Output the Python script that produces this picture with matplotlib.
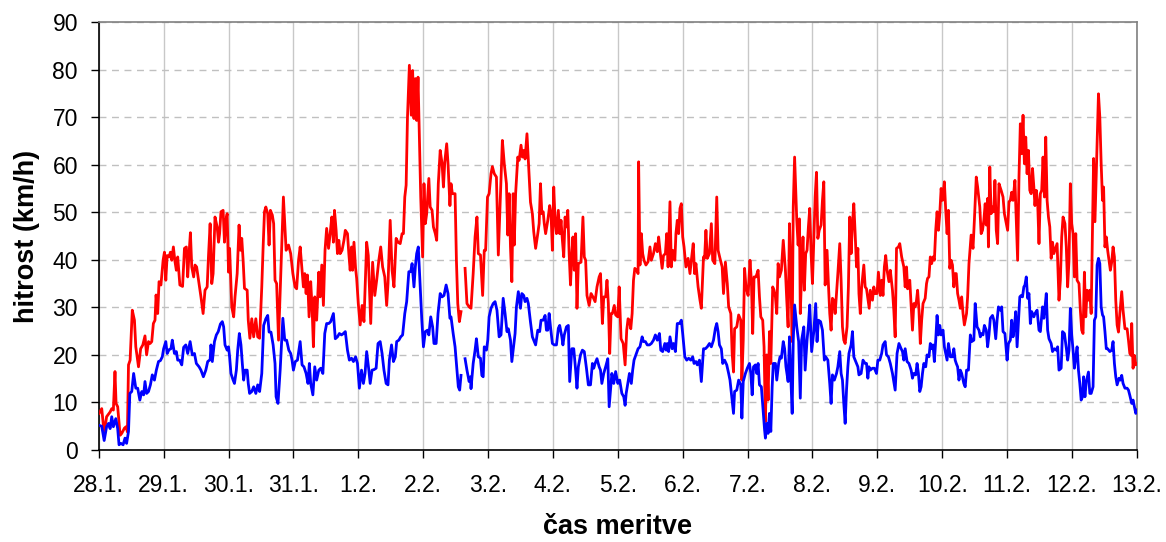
import numpy as np
import matplotlib
matplotlib.use("Agg")
import matplotlib.pyplot as plt

plt.rcParams['font.family'] = ['Liberation Sans', 'DejaVu Sans']

# x labels: one per day, 28.1. .. 13.2.
day_labels = ["28.1.", "29.1.", "30.1.", "31.1.", "1.2.", "2.2.", "3.2.", "4.2.",
              "5.2.", "6.2.", "7.2.", "8.2.", "9.2.", "10.2.", "11.2.", "12.2.", "13.2."]

# gust speed (red): (hours since 28.1. 00:00, km/h), nan = missing data
gust = [
    (0.1, 7.7), (1.1, 8.7), (2.0, 3.5), (2.9, 7.0), (4.2, 8.0), (4.8, 8.7), (5.4, 8.4), (6.0, 16.5),
    (6.4, 9.8), (7.0, 9.1), (7.9, 3.1), (8.5, 3.5), (9.5, 4.6), (10.1, 4.9), (10.6, 3.8), (11.0, 17.9),
    (11.6, 18.9), (12.4, 29.4), (13.2, 27.3), (13.7, 21.7), (14.7, 17.5), (15.5, 21.3), (16.3, 22.1),
    (17.1, 24.0), (17.7, 20.0), (18.4, 22.8), (19.0, 22.4), (19.6, 22.8), (20.2, 26.6), (20.8, 27.3),
    (21.2, 32.6), (21.8, 28.7), (22.3, 35.4), (23.0, 34.7), (23.8, 39.9), (24.3, 41.6), (24.8, 35.7),
    (25.3, 40.9), (26.0, 40.6), (26.5, 41.6), (27.0, 39.9), (27.6, 42.7), (28.2, 39.6), (28.7, 37.8),
    (29.2, 40.6), (30.0, 34.7), (31.0, 34.4), (31.7, 42.4), (32.4, 42.7), (32.9, 36.4), (33.4, 41.3),
    (33.9, 45.7), (34.4, 38.5), (35.1, 36.4), (35.6, 38.9), (36.2, 38.5), (37.1, 35.0), (37.8, 32.2),
    (38.6, 28.7), (39.3, 33.6), (40.1, 34.3), (40.6, 40.9), (41.2, 47.6), (41.8, 35.0), (42.3, 37.1),
    (43.0, 49.0), (43.8, 46.9), (44.3, 43.7), (44.7, 45.5), (45.2, 50.1), (46.0, 50.4), (46.5, 43.7),
    (47.0, 48.3), (47.5, 49.7), (48.0, 37.4), (48.4, 42.4), (49.2, 30.1), (49.9, 28.0), (50.4, 32.2),
    (51.2, 37.1), (51.9, 47.3), (52.4, 42.0), (52.9, 44.5), (53.4, 39.9), (53.9, 34.0), (54.9, 33.6),
    (55.3, 27.3), (55.9, 23.5), (56.6, 27.6), (57.3, 23.8), (58.1, 27.6), (58.8, 23.8), (59.5, 23.5),
    (60.3, 34.3), (60.8, 42.7), (61.3, 50.1), (61.8, 51.1), (62.5, 49.7), (63.0, 43.1), (63.5, 50.4),
    (64.2, 49.4), (64.7, 47.6), (65.2, 35.7), (65.8, 35.0), (66.5, 23.1), (68.3, 53.2), (69.3, 42.0),
    (70.2, 43.1), (71.0, 41.3), (71.8, 37.1), (72.6, 34.3), (73.2, 33.9), (73.9, 39.9), (74.5, 42.7),
    (75.1, 38.5), (75.7, 34.3), (76.2, 37.1), (76.7, 32.9), (77.2, 36.8), (77.8, 28.0), (78.4, 35.4),
    (78.9, 30.1), (79.4, 21.7), (79.9, 32.2), (80.6, 27.3), (81.4, 37.4), (81.9, 32.2), (82.5, 38.9),
    (83.1, 30.4), (83.7, 42.0), (84.3, 46.6), (85.0, 42.4), (85.6, 45.5), (86.2, 49.0), (86.8, 43.7),
    (87.2, 50.4), (87.8, 46.2), (88.3, 41.3), (88.8, 44.1), (89.3, 41.3), (90.0, 42.0), (90.7, 44.1),
    (91.2, 46.2), (92.0, 45.5), (92.5, 41.3), (93.0, 37.8), (93.5, 42.7), (93.9, 37.8), (94.4, 43.7),
    (95.0, 38.2), (95.4, 36.1), (96.0, 30.8), (96.7, 26.3), (97.4, 30.4), (98.1, 27.0), (99.1, 43.7),
    (99.7, 40.9), (100.6, 26.6), (101.3, 39.5), (102.1, 32.5), (102.8, 35.7), (103.6, 39.9),
    (104.3, 42.7), (105.0, 38.5), (105.8, 36.4), (106.5, 30.4), (107.0, 35.0), (107.8, 48.3),
    (108.5, 37.8), (109.2, 34.3), (110.0, 44.5), (110.7, 43.7), (111.5, 43.4), (112.2, 45.5),
    (112.7, 45.5), (113.2, 53.2), (113.7, 55.7), (114.2, 70.0), (114.9, 80.9), (115.6, 70.4),
    (116.1, 79.8), (116.6, 69.7), (117.1, 78.1), (117.6, 69.3), (118.1, 78.4), (118.6, 65.8),
    (119.1, 53.2), (119.8, 40.6), (120.3, 56.0), (120.8, 47.6), (121.3, 49.7), (122.1, 57.1),
    (122.6, 51.1), (123.3, 50.4), (123.8, 46.9), (124.5, 45.5), (125.0, 44.1), (125.6, 56.0),
    (126.3, 63.0), (127.0, 60.2), (127.5, 55.3), (128.0, 60.6), (128.7, 64.4), (129.2, 60.2),
    (129.9, 51.4), (130.3, 56.0), (130.8, 53.9), (131.8, 53.9), (132.3, 39.9), (132.8, 30.8),
    (133.4, 27.0), (134.0, 29.1), (134.8, np.nan), (135.5, 38.2), (136.2, 30.8), (137.0, 30.1),
    (137.7, 29.8), (138.5, 37.1), (139.2, 44.8), (139.9, 49.0), (140.4, 41.3), (141.2, 41.0),
    (141.7, 35.7), (142.0, 32.5), (142.6, 42.0), (143.1, 42.0), (143.8, 53.2), (144.4, 53.9),
    (145.1, 58.1), (145.6, 59.6), (146.3, 58.1), (147.1, 57.4), (147.8, 41.0), (148.6, 53.9),
    (149.3, 65.1), (150.0, 60.2), (150.8, 56.0), (151.3, 45.2), (151.8, 53.9), (152.3, 42.7),
    (152.8, 35.4), (153.3, 53.9), (153.7, 43.1), (154.2, 53.9), (155.0, 61.6), (155.5, 60.9),
    (156.2, 64.1), (156.7, 61.6), (157.2, 63.0), (157.7, 61.2), (158.4, 66.5), (158.9, 60.9),
    (159.7, 52.1), (160.4, 49.7), (160.9, 45.9), (161.6, 42.4), (162.4, 45.5), (162.9, 47.6),
    (163.4, 56.0), (163.9, 49.7), (164.4, 50.1), (164.8, 47.6), (165.3, 45.5), (166.1, 48.3),
    (166.8, 51.4), (167.3, 49.7), (167.8, 42.0), (168.3, 55.3), (168.8, 48.3), (169.3, 45.5),
    (170.0, 50.4), (170.5, 45.5), (171.0, 48.3), (171.5, 44.1), (172.0, 40.6), (172.5, 49.0),
    (173.0, 46.9), (173.5, 50.4), (174.0, 41.3), (174.5, 34.7), (175.0, 41.3), (175.4, 44.8),
    (175.9, 37.8), (176.4, 45.5), (176.9, 29.8), (177.4, 39.2), (178.4, 39.5), (179.1, 49.0),
    (179.6, 40.6), (180.1, 39.9), (180.6, 32.5), (181.4, 30.4), (182.1, 32.9), (182.8, 32.2),
    (183.6, 31.2), (184.3, 34.3), (185.1, 36.4), (185.6, 37.1), (186.3, 26.6), (186.8, 32.2),
    (187.5, 32.2), (188.0, 35.7), (188.5, 30.8), (189.0, 20.3), (189.5, 28.7), (190.0, 28.7),
    (190.7, 30.4), (191.2, 28.4), (192.0, 28.0), (192.5, 34.3), (193.2, 23.4), (194.0, 22.4),
    (194.7, 17.9), (195.3, 25.2), (195.8, 27.6), (196.3, 27.3), (196.8, 25.5), (197.3, 28.7),
    (197.8, 35.7), (198.3, 38.2), (199.0, 37.8), (199.5, 37.1), (199.7, 60.6), (200.2, 38.9),
    (200.7, 45.5), (201.2, 41.3), (201.7, 39.9), (202.4, 38.9), (203.2, 39.6), (203.9, 42.7),
    (204.4, 39.9), (205.2, 41.3), (205.9, 43.4), (206.6, 41.7), (207.1, 44.8), (207.6, 42.0),
    (208.4, 38.2), (208.9, 40.9), (209.6, 41.3), (210.1, 45.5), (210.6, 38.5), (211.3, 52.2),
    (211.8, 38.5), (212.3, 42.0), (213.1, 39.9), (213.5, 45.5), (214.0, 48.3), (214.5, 45.5),
    (215.0, 50.8), (215.5, 51.8), (216.0, 44.8), (216.5, 42.7), (217.2, 38.5), (218.0, 40.3),
    (218.7, 37.1), (219.2, 39.9), (219.9, 43.4), (220.4, 37.1), (220.9, 39.2), (221.7, 34.3),
    (222.4, 31.5), (222.9, 29.8), (223.7, 40.6), (224.1, 40.3), (224.6, 46.2), (225.1, 40.3),
    (225.9, 41.3), (226.6, 47.6), (227.1, 39.9), (227.9, 39.2), (228.6, 53.2), (229.1, 42.0),
    (229.8, 40.3), (230.6, 38.5), (231.1, 32.9), (231.8, 39.5), (232.5, 35.0), (233.0, 30.1),
    (233.8, 28.7), (234.3, 20.3), (234.8, 16.4), (235.2, 25.5), (236.0, 25.9), (236.7, 28.4),
    (237.5, 27.3), (237.9, 14.7), (238.4, 23.1), (238.9, 38.2), (239.4, 34.3), (240.2, 32.5),
    (240.9, 39.9), (241.4, 35.7), (241.9, 24.5), (242.4, 36.4), (243.1, 36.4), (243.9, 37.8),
    (244.4, 32.2), (244.9, 28.0), (245.6, 27.3), (246.1, 21.7), (246.6, 6.0), (247.1, 20.0),
    (247.6, 10.5), (248.1, 24.9), (248.6, 18.2), (249.3, 34.3), (249.8, 33.6), (250.3, 32.2),
    (250.8, 28.7), (251.3, 39.2), (251.8, 36.4), (252.5, 37.8), (253.2, 44.1), (254.0, 37.8),
    (254.5, 31.5), (255.0, 25.9), (255.5, 47.6), (255.9, 39.9), (256.5, 22.8), (256.9, 51.1),
    (257.4, 61.6), (258.2, 48.3), (258.7, 43.1), (259.2, 48.6), (259.5, 28.7), (260.0, 37.1),
    (260.5, 44.8), (261.0, 33.6), (261.5, 41.3), (262.0, 42.0), (262.5, 46.9), (263.0, 50.8),
    (263.5, 41.3), (264.0, 35.0), (264.5, 44.1), (265.0, 53.2), (265.5, 58.4), (266.0, 44.5),
    (266.5, 46.2), (267.2, 47.3), (267.7, 52.5), (268.2, 56.4), (268.7, 34.7), (269.4, 42.0),
    (269.9, 35.0), (270.4, 28.7), (270.9, 25.2), (271.4, 31.9), (271.9, 31.5), (272.4, 28.7),
    (272.9, 32.9), (273.4, 37.1), (274.1, 43.4), (274.6, 35.7), (275.1, 25.9), (275.6, 23.1),
    (276.1, 22.4), (276.8, 25.9), (277.3, 34.3), (277.8, 49.0), (278.3, 41.3), (278.8, 47.6),
    (279.3, 51.8), (279.8, 45.5), (280.3, 38.5), (280.8, 42.4), (281.2, 32.9), (281.7, 28.7),
    (282.2, 34.3), (283.0, 38.9), (283.5, 34.3), (284.0, 33.9), (284.5, 31.9), (285.0, 29.8),
    (285.4, 33.6), (286.2, 31.5), (286.7, 34.3), (287.2, 32.9), (287.9, 32.9), (288.4, 37.4),
    (289.1, 32.5), (289.6, 35.7), (290.1, 32.5), (290.6, 38.5), (291.1, 40.9), (291.6, 37.8),
    (292.3, 35.4), (292.8, 37.8), (293.6, 33.6), (294.1, 29.4), (294.6, 23.8), (295.1, 42.4),
    (295.8, 42.7), (296.3, 43.4), (297.0, 40.6), (297.8, 38.5), (298.3, 34.3), (298.8, 38.5),
    (299.2, 33.9), (300.0, 35.7), (300.5, 30.4), (301.0, 25.2), (301.5, 30.8), (302.0, 30.1),
    (302.5, 31.5), (302.9, 33.6), (303.4, 29.4), (303.9, 22.4), (304.4, 27.3), (304.9, 30.8),
    (305.7, 31.9), (306.2, 35.0), (306.6, 36.1), (307.1, 36.4), (307.6, 40.6), (308.1, 39.2),
    (308.6, 40.6), (309.1, 39.9), (309.6, 46.2), (310.1, 50.1), (310.6, 46.2), (311.1, 49.7),
    (311.6, 55.0), (312.1, 52.5), (312.8, 56.4), (313.3, 50.4), (313.8, 45.5), (314.3, 50.4),
    (314.8, 38.2), (315.3, 39.9), (315.8, 38.9), (316.3, 34.3), (316.8, 37.1), (317.2, 37.1),
    (317.7, 32.9), (318.2, 31.5), (318.7, 29.8), (319.2, 32.2), (319.7, 28.7), (320.2, 26.3),
    (321.0, 28.7), (321.4, 32.2), (321.9, 39.2), (322.7, 45.2), (323.4, 42.4), (323.9, 48.3),
    (324.6, 57.4), (325.1, 55.3), (325.9, 51.1), (326.4, 45.5), (326.9, 46.2), (327.4, 48.3),
    (327.9, 51.8), (328.3, 47.3), (328.8, 52.9), (329.1, 42.7), (329.6, 59.5), (330.1, 49.7),
    (330.6, 51.1), (331.1, 50.1), (331.5, 56.7), (332.0, 46.2), (332.5, 43.4), (333.0, 56.0),
    (333.8, 54.6), (334.5, 53.2), (335.0, 49.7), (335.7, 47.6), (336.2, 46.2), (336.7, 52.2),
    (337.2, 52.5), (337.7, 54.2), (338.2, 52.5), (338.9, 56.7), (339.4, 48.3), (339.9, 39.9),
    (340.4, 57.4), (340.9, 68.6), (341.4, 62.3), (341.9, 70.4), (342.4, 60.2), (342.9, 65.8),
    (343.4, 58.1), (343.9, 63.0), (344.4, 54.6), (344.9, 53.9), (345.4, 59.2), (345.9, 55.3),
    (346.3, 51.4), (346.8, 54.6), (347.3, 52.2), (347.8, 43.4), (348.3, 53.9), (348.8, 54.6),
    (349.3, 61.6), (349.8, 53.2), (350.3, 65.8), (350.8, 52.5), (351.3, 49.0), (351.8, 46.9),
    (352.3, 40.3), (352.8, 43.7), (353.3, 41.3), (353.7, 42.0), (354.5, 43.4), (355.2, 31.5),
    (355.7, 35.7), (356.2, 44.8), (356.7, 49.0), (357.4, 47.6), (357.9, 42.7), (358.4, 34.3),
    (358.9, 39.9), (359.4, 56.0), (359.9, 47.6), (360.4, 45.5), (360.9, 36.4), (361.4, 45.5),
    (361.9, 35.7), (362.6, 35.0), (363.1, 29.4), (363.6, 25.2), (364.1, 24.5), (364.6, 37.4),
    (365.1, 28.0), (365.6, 33.6), (366.1, 31.5), (366.6, 33.6), (367.1, 28.7), (367.6, 47.6),
    (368.0, 61.3), (368.5, 48.0), (369.0, 58.1), (369.8, 74.9), (370.3, 70.0), (370.8, 60.2),
    (371.3, 52.5), (371.7, 55.3), (372.2, 42.7), (372.7, 44.8), (373.2, 42.0), (373.7, 39.9),
    (374.2, 37.8), (374.7, 39.5), (375.2, 42.7), (375.7, 40.6), (376.2, 31.5), (376.7, 26.3),
    (377.2, 24.8), (377.7, 28.7), (378.4, 33.3), (378.9, 29.4), (379.6, 25.5), (380.4, 25.5),
    (380.9, 23.1), (381.4, 20.3), (381.9, 19.9), (382.1, 26.6), (382.6, 17.2), (383.1, 19.9),
    (383.6, 17.9), (384.0, 18.1),
]

# mean speed (blue)
mean = [
    (0.1, 5.2), (1.1, 5.0), (2.0, 2.0), (2.9, 4.9), (3.6, 5.6), (4.2, 4.5), (4.8, 7.0), (5.4, 4.9),
    (6.3, 6.6), (7.0, 4.5), (7.5, 1.1), (8.2, 1.4), (9.0, 1.1), (9.7, 2.5), (10.3, 1.4), (11.0, 3.9),
    (11.5, 11.9), (12.2, 12.3), (12.9, 16.1), (13.7, 13.0), (14.4, 13.0), (15.2, 10.5), (15.9, 12.3),
    (16.6, 11.6), (17.1, 14.4), (17.7, 11.9), (18.4, 12.3), (19.1, 13.7), (19.8, 15.8), (20.6, 14.7),
    (21.3, 16.8), (22.1, 18.6), (22.8, 18.8), (23.5, 19.6), (24.0, 21.3), (24.8, 22.8), (25.3, 20.3),
    (26.0, 21.1), (26.7, 21.3), (27.2, 23.1), (28.0, 20.3), (28.7, 20.7), (29.2, 18.9), (29.9, 18.9),
    (30.7, 17.9), (31.4, 21.6), (32.2, 22.1), (32.9, 20.3), (33.8, 22.8), (34.6, 20.0), (35.4, 20.3),
    (36.1, 18.2), (37.1, 17.5), (37.8, 16.8), (38.7, 15.4), (39.6, 16.8), (40.3, 18.6), (41.2, 19.0),
    (41.5, 22.1), (42.0, 18.6), (42.8, 22.8), (43.5, 24.2), (44.2, 24.9), (45.0, 26.5), (45.7, 27.0),
    (46.2, 25.9), (46.7, 22.1), (47.5, 21.0), (48.0, 21.7), (48.4, 19.6), (48.9, 16.1), (49.7, 14.7),
    (50.2, 14.0), (50.9, 16.8), (51.4, 21.0), (52.0, 24.5), (52.6, 22.1), (53.1, 18.2), (53.6, 14.7),
    (54.1, 16.8), (54.9, 16.8), (55.3, 14.0), (55.8, 11.9), (56.6, 12.3), (57.3, 13.3), (58.1, 11.9),
    (58.8, 13.7), (59.5, 12.3), (60.3, 16.1), (61.0, 26.2), (61.8, 27.6), (62.5, 28.3), (63.0, 24.8),
    (63.7, 24.8), (64.5, 22.1), (65.2, 18.2), (65.6, 11.2), (66.3, 9.8), (67.1, 16.8), (68.1, 27.7),
    (68.8, 23.1), (69.5, 23.1), (70.3, 21.0), (71.0, 20.3), (71.5, 18.9), (72.0, 16.8), (72.7, 18.6),
    (73.5, 18.9), (74.5, 22.8), (75.2, 17.9), (75.9, 17.5), (76.7, 16.1), (77.4, 14.0), (77.9, 18.2),
    (78.4, 14.0), (79.2, 11.6), (79.9, 17.5), (80.6, 14.7), (81.4, 16.8), (82.1, 17.2), (82.9, 16.1),
    (83.6, 24.5), (84.3, 26.6), (85.1, 26.6), (85.8, 27.0), (86.8, 28.7), (87.5, 23.4), (88.3, 23.8),
    (89.0, 24.5), (89.8, 24.2), (90.5, 24.5), (91.2, 24.9), (92.0, 21.0), (92.7, 18.9), (93.5, 19.3),
    (94.2, 18.6), (95.0, 19.6), (95.7, 18.2), (96.4, 13.0), (97.2, 16.8), (97.9, 14.0), (98.5, 16.1),
    (99.1, 20.7), (99.9, 16.8), (100.4, 14.0), (101.1, 16.8), (101.8, 16.9), (102.6, 17.2),
    (103.3, 22.4), (104.1, 22.8), (104.8, 20.3), (105.5, 16.8), (106.3, 14.0), (107.0, 13.7),
    (107.5, 18.9), (108.3, 22.1), (109.0, 18.6), (109.7, 19.6), (110.2, 22.8), (111.0, 23.1),
    (111.7, 23.8), (112.4, 24.2), (113.2, 28.7), (113.9, 31.2), (114.7, 37.5), (115.4, 37.5),
    (115.9, 39.2), (116.6, 34.3), (117.1, 38.5), (117.6, 41.3), (118.2, 42.7), (118.9, 34.3),
    (119.5, 27.3), (120.1, 21.7), (120.8, 24.9), (121.6, 25.2), (122.1, 24.2), (122.8, 28.0),
    (123.5, 25.9), (124.0, 22.4), (124.8, 22.4), (125.5, 28.7), (126.3, 32.9), (127.0, 32.2),
    (127.7, 32.5), (128.5, 34.7), (129.2, 32.9), (129.9, 27.7), (130.3, 28.0), (131.1, 24.5),
    (131.8, 21.7), (132.5, 16.8), (133.0, 13.3), (133.5, 12.6), (134.0, 15.7), (134.8, np.nan),
    (135.5, 19.2), (136.2, 16.8), (137.0, 14.4), (137.5, 15.4), (137.7, 12.9), (138.5, 18.2),
    (139.2, 21.0), (139.7, 23.4), (140.4, 19.6), (141.2, 19.3), (141.7, 15.7), (142.2, 15.4),
    (142.6, 21.7), (143.4, 21.0), (143.9, 23.1), (144.4, 28.0), (145.1, 29.8), (145.9, 30.8),
    (146.6, 31.2), (147.3, 29.4), (148.1, 23.8), (148.8, 24.2), (149.6, 31.9), (150.3, 28.7),
    (151.0, 24.9), (151.5, 25.5), (152.3, 23.1), (152.8, 18.6), (153.3, 21.0), (154.0, 24.5),
    (154.5, 30.1), (155.2, 33.3), (156.0, 29.8), (156.5, 32.9), (157.2, 32.5), (157.7, 31.2),
    (158.4, 31.9), (158.9, 30.8), (159.7, 26.9), (160.4, 23.8), (160.9, 23.1), (161.6, 22.1),
    (162.4, 25.2), (163.1, 24.9), (163.6, 27.3), (164.4, 27.3), (165.1, 28.3), (165.6, 25.2),
    (166.1, 25.2), (166.6, 28.7), (167.1, 25.9), (167.8, 22.4), (168.5, 22.1), (169.3, 22.1),
    (170.0, 25.6), (170.5, 26.2), (171.3, 23.8), (171.7, 22.1), (172.2, 24.2), (173.0, 25.9),
    (173.7, 26.2), (174.2, 14.4), (175.0, 21.3), (175.7, 21.3), (176.4, 16.8), (176.9, 13.0),
    (177.4, 17.5), (178.2, 20.0), (178.9, 21.0), (179.6, 20.7), (180.4, 17.2), (181.1, 13.7),
    (181.9, 13.7), (182.6, 18.2), (183.1, 17.2), (183.6, 18.2), (184.3, 19.2), (185.1, 17.5),
    (185.6, 16.8), (186.1, 14.0), (186.8, 16.1), (187.5, 17.5), (188.3, 19.2), (188.8, 9.1),
    (189.3, 12.6), (189.8, 16.1), (190.5, 14.0), (191.2, 16.5), (192.0, 14.0), (192.7, 14.7),
    (193.5, 11.9), (194.2, 11.2), (194.7, 9.4), (195.1, 11.9), (195.8, 14.4), (196.3, 16.1),
    (197.0, 14.0), (197.5, 16.8), (198.0, 18.9), (198.7, 20.0), (199.5, 21.3), (200.2, 21.7),
    (201.0, 23.8), (201.5, 22.8), (202.2, 22.8), (202.9, 22.1), (203.7, 22.1), (204.4, 22.4),
    (205.2, 23.1), (205.9, 24.2), (206.6, 23.1), (207.4, 24.5), (207.9, 21.0), (208.6, 20.7),
    (209.4, 22.4), (209.9, 21.0), (210.3, 22.4), (210.8, 20.7), (211.3, 23.8), (212.1, 21.3),
    (212.6, 22.4), (213.3, 20.7), (214.0, 26.6), (214.8, 26.6), (215.5, 27.3), (216.0, 24.5),
    (216.8, 19.6), (217.5, 18.9), (218.2, 19.3), (219.0, 18.9), (219.7, 19.6), (220.2, 18.2),
    (220.9, 18.6), (221.4, 17.9), (222.2, 18.9), (222.9, 14.4), (223.7, 21.3), (224.4, 21.3),
    (225.1, 21.7), (225.9, 22.4), (226.6, 21.7), (227.4, 23.1), (228.1, 25.6), (228.6, 26.6),
    (229.1, 24.9), (229.6, 22.1), (230.3, 21.3), (230.8, 18.2), (231.5, 18.9), (232.3, 17.9),
    (233.0, 16.1), (233.5, 14.7), (234.3, 10.5), (234.8, 7.7), (235.2, 12.3), (236.0, 12.6),
    (236.7, 14.7), (237.5, 13.7), (237.9, 6.7), (238.4, 14.4), (239.2, 16.1), (239.9, 17.2),
    (240.7, 18.2), (241.2, 16.1), (241.7, 11.6), (242.2, 17.5), (242.9, 17.9), (243.4, 16.1),
    (243.9, 18.2), (244.4, 13.7), (245.1, 13.3), (245.6, 9.4), (246.3, 4.2), (246.6, 2.5),
    (247.1, 5.6), (247.6, 3.5), (248.1, 7.7), (248.6, 3.9), (249.1, 13.3), (249.5, 18.2),
    (250.3, 18.2), (250.8, 14.7), (251.5, 18.2), (252.0, 19.6), (252.5, 19.3), (253.2, 22.8),
    (253.7, 21.3), (254.2, 17.5), (255.0, 14.4), (255.5, 23.8), (255.9, 16.8), (256.5, 7.7),
    (256.9, 23.1), (257.4, 30.5), (258.2, 25.9), (258.9, 22.8), (259.5, 10.9), (260.0, 23.1),
    (260.8, 25.9), (261.3, 16.8), (262.0, 23.1), (262.5, 26.2), (263.0, 30.5), (263.7, 20.7),
    (264.5, 24.9), (265.2, 30.8), (265.7, 22.8), (266.2, 27.3), (267.0, 27.0), (267.7, 25.2),
    (268.4, 18.9), (268.9, 19.6), (269.7, 18.9), (270.4, 14.0), (270.9, 9.8), (271.4, 15.8),
    (272.1, 14.7), (272.9, 16.1), (273.4, 17.5), (274.1, 20.7), (274.6, 16.1), (275.1, 14.7),
    (275.6, 9.8), (276.1, 5.6), (276.6, 12.6), (277.1, 17.5), (277.5, 20.3), (278.3, 22.1),
    (278.8, 24.9), (279.3, 19.6), (280.0, 18.6), (280.8, 17.5), (281.2, 15.8), (282.0, 16.1),
    (282.7, 18.9), (283.5, 18.2), (284.0, 18.2), (284.5, 15.1), (284.9, 17.5), (285.4, 16.8),
    (286.2, 17.2), (286.9, 17.2), (287.7, 16.1), (288.2, 18.9), (288.9, 18.9), (289.6, 20.3),
    (290.1, 22.1), (290.9, 22.8), (291.4, 20.0), (292.1, 19.6), (292.8, 18.2), (293.6, 16.1),
    (294.6, 12.6), (295.3, 20.3), (296.0, 22.4), (296.8, 21.3), (297.3, 20.7), (297.8, 18.9),
    (298.3, 21.3), (299.0, 18.6), (299.7, 18.2), (300.5, 16.8), (301.0, 15.1), (301.5, 16.1),
    (302.2, 15.8), (302.7, 18.2), (303.2, 16.1), (303.7, 12.3), (304.2, 13.3), (304.7, 16.1),
    (305.2, 18.2), (305.9, 17.5), (306.4, 20.0), (307.1, 19.6), (307.6, 22.4), (308.1, 21.3),
    (308.6, 22.1), (309.1, 18.6), (309.6, 23.1), (310.1, 28.3), (310.6, 24.2), (311.1, 26.2),
    (311.6, 24.2), (312.3, 25.2), (312.8, 21.7), (313.3, 20.3), (313.8, 18.9), (314.3, 22.4),
    (315.0, 19.6), (315.8, 19.6), (316.3, 21.3), (316.8, 18.9), (317.2, 18.2), (317.7, 17.5),
    (318.2, 14.7), (318.7, 16.8), (319.2, 16.1), (320.0, 14.0), (320.5, 13.3), (321.0, 16.8),
    (321.7, 16.8), (322.4, 24.2), (322.9, 22.8), (323.7, 23.1), (324.2, 30.8), (324.9, 25.9),
    (325.6, 25.2), (326.1, 23.8), (326.6, 24.5), (327.1, 24.2), (327.6, 26.2), (328.3, 25.2),
    (328.8, 21.7), (329.3, 24.2), (329.8, 27.7), (330.6, 28.3), (331.1, 27.3), (331.8, 23.4),
    (332.3, 27.3), (332.8, 30.1), (333.5, 29.4), (334.0, 30.1), (334.5, 24.9), (335.2, 24.5),
    (336.0, 18.9), (336.5, 22.4), (337.2, 23.1), (337.7, 27.3), (338.2, 23.8), (338.7, 25.9),
    (339.2, 29.1), (339.7, 21.7), (340.2, 27.0), (340.7, 32.2), (341.2, 32.5), (341.7, 32.2),
    (342.2, 34.3), (342.6, 34.7), (343.1, 36.4), (343.6, 31.9), (344.1, 32.9), (344.6, 26.6),
    (345.1, 29.1), (345.9, 28.0), (346.3, 28.7), (347.1, 29.4), (347.8, 25.2), (348.3, 24.9),
    (349.1, 30.1), (349.6, 27.7), (350.0, 29.8), (350.5, 32.9), (351.0, 25.2), (351.5, 23.4),
    (352.3, 22.4), (352.8, 20.7), (353.5, 21.3), (354.2, 21.0), (354.7, 21.7), (355.2, 16.8),
    (356.0, 17.2), (356.5, 24.9), (357.2, 24.5), (358.0, 21.0), (358.4, 18.9), (358.9, 21.0),
    (359.4, 29.8), (359.9, 24.2), (360.4, 21.0), (360.9, 17.2), (361.4, 19.6), (361.9, 21.7),
    (362.4, 16.8), (362.9, 14.0), (363.4, 10.5), (363.9, 11.2), (364.3, 15.4), (364.8, 11.2),
    (365.3, 14.4), (366.1, 16.4), (366.6, 11.9), (367.1, 11.9), (367.8, 13.3), (368.3, 27.3),
    (368.8, 28.0), (369.3, 38.9), (369.8, 40.3), (370.3, 39.2), (370.8, 30.1), (371.3, 28.4),
    (371.7, 28.0), (372.2, 24.9), (372.7, 21.3), (373.2, 21.3), (374.0, 20.7), (374.7, 21.0),
    (375.2, 22.8), (375.7, 18.2), (376.2, 15.4), (376.7, 13.7), (377.4, 15.1), (377.9, 14.7),
    (378.4, 15.7), (378.9, 14.0), (379.6, 13.0), (380.4, 13.0), (380.9, 12.6), (381.4, 11.5),
    (382.1, 9.8), (382.6, 10.5), (383.1, 9.1), (383.6, 7.7), (384.0, 8.4),
]

gust = np.array(gust)
mean = np.array(mean)

fig = plt.figure(figsize=(11.66, 5.42), dpi=100)
ax = fig.add_axes([0.0847, 0.1697, 0.8903, 0.7897])

ax.plot(gust[:, 0], gust[:, 1], color='#ff0000', lw=2.0, zorder=3)
ax.plot(mean[:, 0], mean[:, 1], color='#0000ff', lw=2.0, zorder=4)

ax.set_xlim(0, 24 * (len(day_labels) - 1))
ax.set_ylim(0, 90)
ax.set_xticks(np.arange(len(day_labels)) * 24)
ax.set_xticklabels(day_labels)
ax.set_yticks(np.arange(0, 91, 10))

ax.grid(axis='y', color='#c0c0c0', linestyle=(0, (5, 4)), lw=1.0)
ax.grid(axis='x', color='#c8c8c8', linestyle='-', lw=1.0)
ax.set_axisbelow(True)

for s in ['left', 'bottom']:
    ax.spines[s].set_color('black')
    ax.spines[s].set_linewidth(1.2)
for s in ['top', 'right']:
    ax.spines[s].set_color('#808080')
    ax.spines[s].set_linewidth(1.2)

ax.tick_params(axis='both', direction='out', length=5.5, width=1, labelsize=16.5, colors='black')
ax.tick_params(axis='x', pad=12)
ax.tick_params(axis='y', pad=9.5)

ax.set_xlabel('čas meritve', fontsize=19.5, fontweight='bold', labelpad=12)
ax.set_ylabel('hitrost (km/h)', fontsize=19.5, fontweight='bold', labelpad=9)

fig.savefig('out.png', dpi=100)
